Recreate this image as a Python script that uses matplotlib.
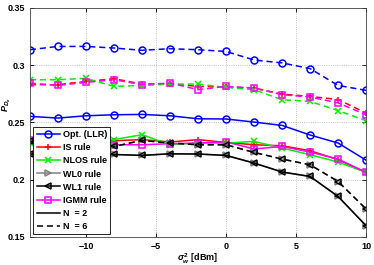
import matplotlib.pyplot as plt
from matplotlib.lines import Line2D

plt.rcParams['font.family'] = ['Liberation Sans', 'DejaVu Sans']
plt.rcParams['font.weight'] = 'bold'
plt.rcParams['mathtext.fontset'] = 'custom'
plt.rcParams['mathtext.rm'] = 'Liberation Sans'
plt.rcParams['mathtext.it'] = 'Liberation Sans:italic'

x = [-14, -12, -10, -8, -6, -4, -2, 0, 2, 4, 6, 8, 10]

# N = 6 (dashed)
opt6 = [0.3135, 0.3164, 0.3164, 0.315, 0.313, 0.3144, 0.3135, 0.312, 0.3045, 0.302, 0.297, 0.2823, 0.278]
is6 = [0.283, 0.283, 0.2858, 0.2882, 0.2835, 0.2838, 0.2815, 0.281, 0.280, 0.2748, 0.2727, 0.270, 0.2582]
nlos6 = [0.2873, 0.2873, 0.2885, 0.2815, 0.2823, 0.2835, 0.2835, 0.2806, 0.2786, 0.2698, 0.2684, 0.2603, 0.2515]
igmm6 = [0.2844, 0.2823, 0.285, 0.2873, 0.283, 0.2844, 0.2786, 0.2815, 0.280, 0.2742, 0.2722, 0.267, 0.2567]
wl0_6 = [0.2334, 0.232, 0.231, 0.229, 0.2343, 0.232, 0.2305, 0.2305, 0.2238, 0.218, 0.213, 0.1984, 0.1743]
wl1_6 = [0.2334, 0.232, 0.231, 0.229, 0.2343, 0.232, 0.2305, 0.2305, 0.2238, 0.218, 0.213, 0.1984, 0.1743]

# N = 2 (solid)
opt2 = [0.2553, 0.2538, 0.2558, 0.2567, 0.257, 0.2558, 0.2532, 0.253, 0.2503, 0.2474, 0.239, 0.232, 0.217]
is2 = [0.2335, 0.233, 0.233, 0.234, 0.235, 0.2329, 0.235, 0.2325, 0.2305, 0.2296, 0.2253, 0.2174, 0.2063]
nlos2 = [0.232, 0.232, 0.233, 0.235, 0.2393, 0.2305, 0.232, 0.232, 0.2334, 0.2276, 0.2218, 0.2154, 0.2063]
igmm2 = [0.2349, 0.232, 0.231, 0.2305, 0.2305, 0.2314, 0.232, 0.233, 0.2268, 0.229, 0.2241, 0.218, 0.2063]
wl0_2 = [0.2224, 0.222, 0.222, 0.222, 0.2212, 0.2226, 0.2224, 0.2212, 0.2145, 0.2067, 0.2028, 0.1853, 0.1597]
wl1_2 = [0.2224, 0.222, 0.222, 0.222, 0.2212, 0.2226, 0.2224, 0.2212, 0.2145, 0.2067, 0.2028, 0.1853, 0.1597]

labels = ['Opt. (LLR)', 'IS rule', 'NLOS rule', 'WL0 rule', 'WL1 rule', 'IGMM rule']
colors = ['#0000ff', '#ff0000', '#00f000', '#808080', '#000000', '#ff00ff']
markers = ['o', '+', 'x', '>', '<', 's']
series2 = [opt2, is2, nlos2, wl0_2, wl1_2, igmm2]
series6 = [opt6, is6, nlos6, wl0_6, wl1_6, igmm6]

fig = plt.figure(figsize=(3.74, 2.65), dpi=100)
ax = fig.add_axes([0.080, 0.106, 0.899, 0.864])

dash = (0, (4, 2.5))
order = [1, 2, 5, 0, 3, 4]
handles = [None] * 6
for k in order:
    ax.plot(x, series6[k], color=colors[k], marker=markers[k], ls=dash, lw=1.1,
            ms=5, mfc='none', mew=1.1)
    h, = ax.plot(x, series2[k], color=colors[k], marker=markers[k], ls='-', lw=1.1,
                 ms=5, mfc='none', mew=1.1, label=labels[k])
    handles[k] = h

handles += [Line2D([], [], color='k', ls='-', lw=1.1, label='N  = 2'),
            Line2D([], [], color='k', ls=dash, lw=1.1, label='N  = 6')]

ax.set_xlim(-14, 10)
ax.set_ylim(0.15, 0.35)
ax.set_xticks([-10, -5, 0, 5, 10])
ax.set_yticks([0.15, 0.2, 0.25, 0.3, 0.35])
ax.set_yticklabels(['0.15', '0.2', '0.25', '0.3', '0.35'])
ax.tick_params(direction='in', top=True, right=True, labelsize=6.5, length=3, width=0.6)
ax.grid(True, ls=':', color='#b0b0b0', lw=0.6)
for sp in ax.spines.values():
    sp.set_linewidth(0.6)
    sp.set_color('#404040')

ax.set_xlabel(r'$\sigma_w^2$ [dBm]', fontsize=6.5, fontweight='bold', labelpad=0)
ax.xaxis.set_label_coords(0.5, -0.065)
ax.set_ylabel(r'$P_{D_e}$', fontsize=6.5, labelpad=0)
ax.yaxis.set_label_coords(-0.05, 0.58)

leg = ax.legend(handles=handles, loc='lower left', bbox_to_anchor=(0.005, 0.005),
                fontsize=6.5, frameon=True, fancybox=False, edgecolor='k',
                framealpha=1, labelspacing=0.45, handlelength=2.6, handletextpad=0.3,
                borderpad=0.35, borderaxespad=0.2)
leg.get_frame().set_linewidth(0.6)

fig.savefig('out.png', dpi=100)
